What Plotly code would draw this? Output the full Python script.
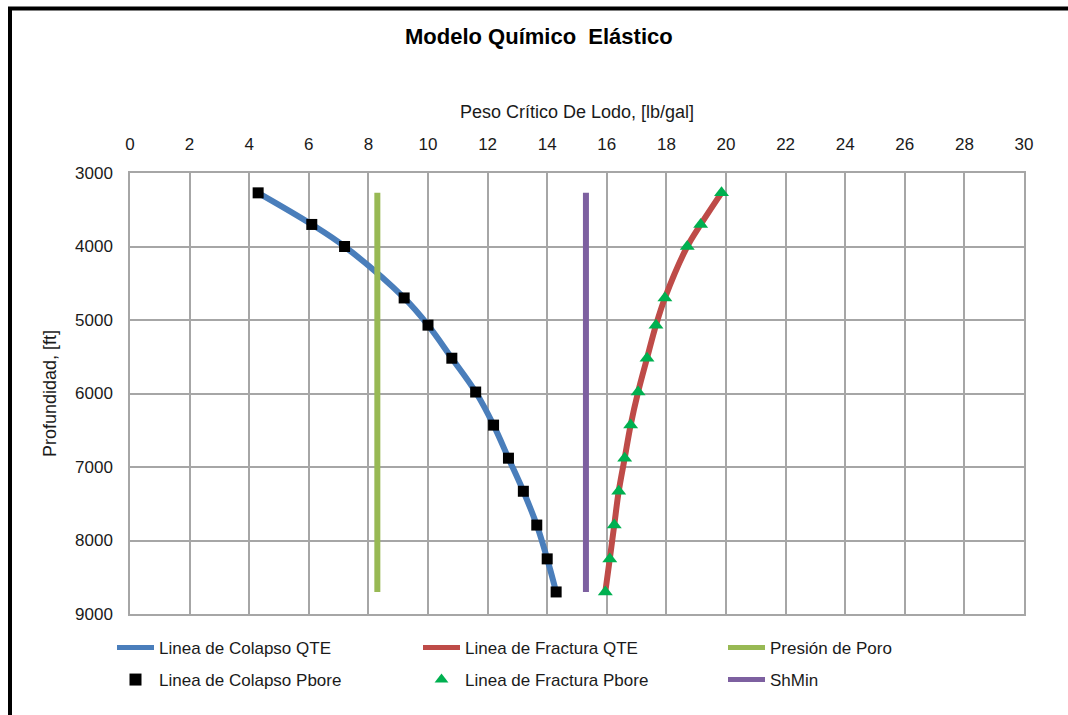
import plotly.graph_objects as go

# Depths (ft) shared by every series
depth = [3270, 3700, 4000, 4700, 5070, 5520, 5980, 6430, 6880, 7330, 7790, 8250, 8700]

# Critical mud weight (lb/gal)
colapso_qte = [4.3, 6.1, 7.2, 9.2, 10.0, 10.8, 11.6, 12.2, 12.7, 13.2, 13.65, 14.0, 14.3]
colapso_pbore = [4.3, 6.1, 7.2, 9.2, 10.0, 10.8, 11.6, 12.2, 12.7, 13.2, 13.65, 14.0, 14.3]
fractura_qte = [19.85, 19.15, 18.7, 17.95, 17.65, 17.35, 17.05, 16.8, 16.6, 16.4, 16.25, 16.1, 15.95]
fractura_pbore = [19.85, 19.15, 18.7, 17.95, 17.65, 17.35, 17.05, 16.8, 16.6, 16.4, 16.25, 16.1, 15.95]
poro_depth = [3270, 8700]
presion_poro = [8.3, 8.3]
shmin_depth = [3270, 8700]
shmin = [15.3, 15.3]

x_ticks = list(range(0, 31, 2))
y_ticks = list(range(3000, 9001, 1000))

FONT = "Liberation Sans, Arial, sans-serif"
TXT = "#1a1a1a"

# plot area in pixels: left 130, right 1024, top 173, bottom 614
PL, PW, PB, PH = 130, 894, 614, 441


def px_x(px):
    return (px - PL) / PW


def px_y(py):
    return (PB - py) / PH


fig = go.Figure()
fig.add_trace(go.Scatter(x=colapso_qte, y=depth, mode="lines", name="Linea de Colapso QTE",
                         line=dict(color="#4A7EBB", width=6, shape="spline"), legend="legend"))
fig.add_trace(go.Scatter(x=fractura_qte, y=depth, mode="lines", name="Linea de Fractura QTE",
                         line=dict(color="#BE4B48", width=6, shape="spline"), legend="legend2"))
fig.add_trace(go.Scatter(x=presion_poro, y=poro_depth, mode="lines", name="Presión de Poro",
                         line=dict(color="#98B954", width=6), legend="legend3"))
fig.add_trace(go.Scatter(x=colapso_pbore, y=depth, mode="markers", name="Linea de Colapso Pbore",
                         marker=dict(symbol="square", color="black", size=11), legend="legend4"))
fig.add_trace(go.Scatter(x=fractura_pbore, y=depth, mode="markers", name="Linea de Fractura Pbore",
                         marker=dict(symbol="triangle-up", color="#00B050", size=13), legend="legend5"))
fig.add_trace(go.Scatter(x=shmin, y=shmin_depth, mode="lines", name="ShMin",
                         line=dict(color="#7D60A0", width=6), legend="legend6"))


def legend_at(px, py):
    return dict(orientation="h", x=px_x(px), y=px_y(py), xanchor="left", yanchor="middle",
                itemwidth=37, itemsizing="constant", font=dict(family=FONT, size=17, color=TXT),
                bgcolor="rgba(0,0,0,0)")


cols = [112, 418, 723]
rows = [648, 680]

fig.update_layout(
    width=1068, height=715,
    margin=dict(l=130, r=44, t=173, b=101),
    paper_bgcolor="white", plot_bgcolor="white",
    font=dict(family=FONT, size=16, color=TXT),
    legend=legend_at(cols[0], rows[0]),
    legend2=legend_at(cols[1], rows[0]),
    legend3=legend_at(cols[2], rows[0]),
    legend4=legend_at(cols[0], rows[1]),
    legend5=legend_at(cols[1], rows[1]),
    legend6=legend_at(cols[2], rows[1]),
    xaxis=dict(range=[0, 30], tickvals=x_ticks, side="top", showgrid=True,
               gridcolor="#A6A6A6", gridwidth=1.5, showline=True, linecolor="#A6A6A6",
               linewidth=1.5, mirror=True, zeroline=False, ticks="", ticklabelstandoff=14,
               tickfont=dict(size=17, color=TXT),
               title=dict(text="Peso Crítico De Lodo, [lb/gal]", standoff=12,
                          font=dict(size=18, color=TXT))),
    yaxis=dict(range=[9000, 3000], tickvals=y_ticks, showgrid=True,
               gridcolor="#A6A6A6", gridwidth=1.5, showline=True, linecolor="#A6A6A6",
               linewidth=1.5, mirror=True, zeroline=False, ticks="", ticklabelstandoff=12,
               tickfont=dict(size=17, color=TXT),
               title=dict(text="Profundidad, [ft]", standoff=14,
                          font=dict(size=18, color=TXT))),
    annotations=[dict(text="<b>Modelo Químico  Elástico</b>", xref="paper", yref="paper",
                      x=px_x(539), y=px_y(36), xanchor="center", yanchor="middle",
                      showarrow=False, font=dict(family=FONT, size=22, color="black"))],
    shapes=[
        # outer frame: top and left edges
        dict(type="line", xref="paper", yref="paper", x0=px_x(8), x1=px_x(1068),
             y0=px_y(8.5), y1=px_y(8.5), line=dict(color="black", width=4)),
        dict(type="line", xref="paper", yref="paper", x0=px_x(10), x1=px_x(10),
             y0=px_y(7), y1=px_y(720), line=dict(color="black", width=4)),
    ],
    showlegend=True,
)

fig.write_html("out.html")
